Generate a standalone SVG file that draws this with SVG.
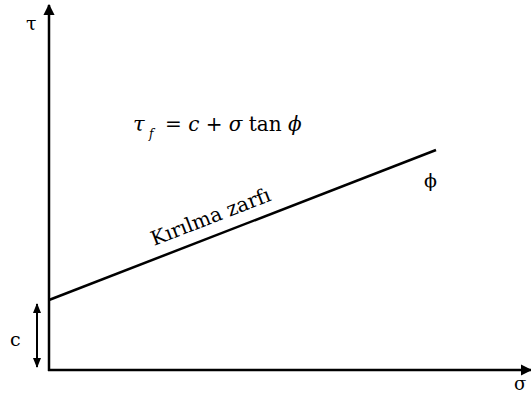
<svg xmlns="http://www.w3.org/2000/svg" width="531" height="396" viewBox="0 0 531 396">
<defs>
<marker id="ah" viewBox="0 0 10 10" refX="9" refY="5" markerWidth="4.5" markerHeight="4.5" orient="auto-start-reverse" markerUnits="strokeWidth"><path d="M0,0 L10,5 L0,10 Z" fill="#000"/></marker>
<marker id="ah2" viewBox="0 0 10 10" refX="9" refY="5" markerWidth="5" markerHeight="5" orient="auto-start-reverse" markerUnits="strokeWidth"><path d="M0,1 L10,5 L0,9 Z" fill="#000"/></marker>
</defs>
<rect width="531" height="396" fill="#fff"/>
<g id="connectors" stroke="#000" stroke-width="2.5" fill="none">
<line x1="49" y1="371" x2="49" y2="5" marker-end="url(#ah)"/>
<line x1="48" y1="370" x2="531" y2="370" marker-end="url(#ah)"/>
<line x1="49" y1="300" x2="436" y2="150"/>
<line x1="37" y1="304" x2="37" y2="367" stroke-width="2" marker-start="url(#ah2)" marker-end="url(#ah2)"/>
</g>
<g id="labels" font-family="'DejaVu Serif', serif" fill="#000">
<text x="26" y="30" font-size="19">τ</text>
<text x="514" y="390" font-size="18">σ</text>
<text x="10" y="346" font-size="19">c</text>
<text x="424" y="187" font-size="19">ϕ</text>
<text x="133" y="131" font-size="21" font-style="italic">τ</text>
<text x="149" y="138" font-size="12" font-style="italic">f</text>
<text x="165" y="131" font-size="20">= <tspan font-style="italic">c</tspan> + <tspan font-style="italic">σ</tspan> tan <tspan font-style="italic">ϕ</tspan></text>
<text x="154" y="246" font-size="20" transform="rotate(-21.2 154 246)">Kırılma zarfı</text>
</g>
</svg>
